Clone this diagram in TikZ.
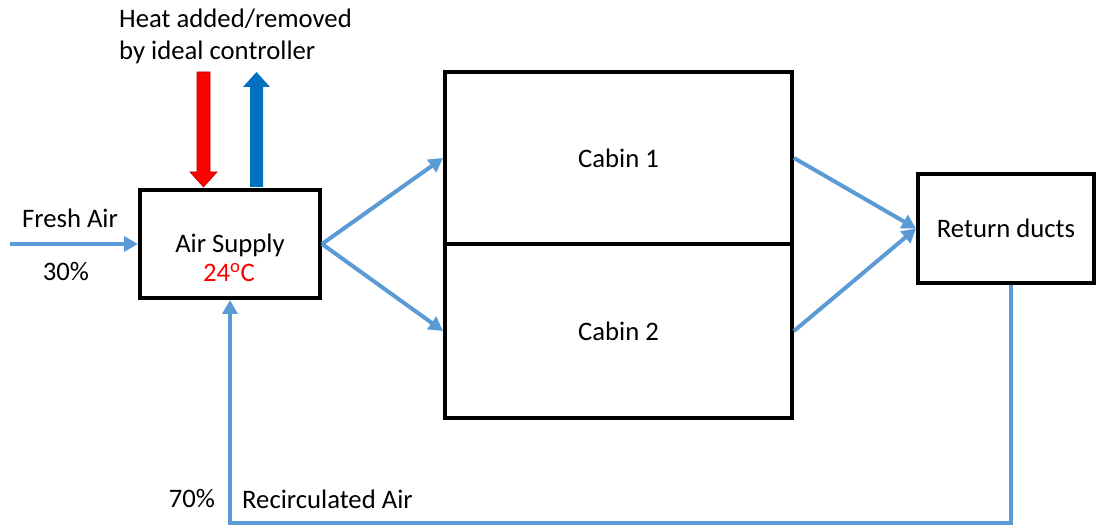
\documentclass[tikz,border=0pt]{standalone}
\usepackage{fontspec}
\setmainfont{Carlito}
\usetikzlibrary{arrows.meta}
\definecolor{flow}{HTML}{5B9BD5}
\definecolor{heatred}{HTML}{FF0000}
\definecolor{coolblue}{HTML}{0070C0}
\tikzset{
  block/.style={draw=black, line width=4pt, fill=white, inner sep=0pt,
    font=\fontsize{26.7}{32}\selectfont, align=center},
  lbl/.style={inner sep=0pt, font=\fontsize{26.7}{32}\selectfont, align=center},
  flowline/.style={draw=flow, line width=4pt,
    -{Triangle[length=14pt,width=15pt]}},
}
\begin{document}
\begin{tikzpicture}[x=1pt,y=-1pt]
\useasboundingbox (0,0) rectangle (1096,526);

% blocks
\node[block, minimum width=180pt, minimum height=108pt] (air) at (230,244) {};
\node[block, minimum width=347pt, minimum height=172pt] (cab1) at (618.5,158) {Cabin 1};
\node[block, minimum width=347pt, minimum height=174pt] (cab2) at (618.5,331) {Cabin 2};
\node[block, minimum width=176pt, minimum height=109pt] (ret) at (1006,228.5) {Return ducts};

% supply block text
\node[lbl] (airname) at (230,245) {Air Supply};
\node[lbl, text=heatred] (airtemp) at (229,273) {24\textsuperscript{o}C};

% heat added (red, down) and removed (blue, up)
\fill[heatred, draw=heatred!70!black, line width=0.6pt]
  (197,72) -- (210,72) -- (210,172) -- (217,172) -- (203.5,187)
  -- (190,172) -- (197,172) -- cycle;
\fill[coolblue]
  (250,187) -- (263,187) -- (263,87) -- (270,87) -- (256.5,72)
  -- (243,87) -- (250,87) -- cycle;

% labels
\node[lbl, align=left, anchor=west] (heat) at (119,36) {Heat added/removed\\by ideal controller};
\node[lbl] (fresh) at (70,218) {Fresh Air};
\node[lbl] (p30) at (66,272) {30\%};
\node[lbl] (p70) at (192,499) {70\%};
\node[lbl, anchor=west] (recirc) at (242,499) {Recirculated Air};

% connectors
\coordinate (src) at (10,244);
\draw[flowline] (src) -- (air.west);
\draw[flowline] (air.east) -- (cab1.west);
\draw[flowline] (air.east) -- (cab2.west);
\draw[flowline] (cab1.east) -- (ret.west);
\draw[flowline] (cab2.east) -- (ret.west);
\coordinate (bottom) at (1011,523);
\draw[flowline] ([xshift=5pt]ret.south) -- (bottom) -| (air.south);
\end{tikzpicture}
\end{document}
